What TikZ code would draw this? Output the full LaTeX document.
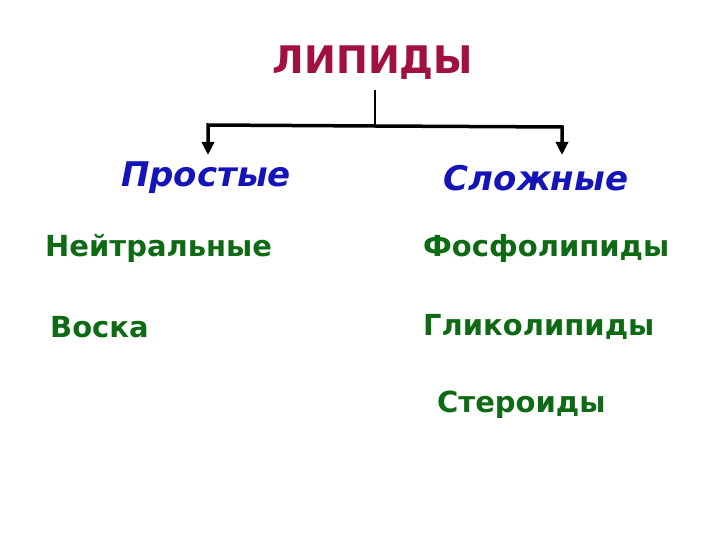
\documentclass[tikz,border=0pt]{standalone}
\usepackage{fontspec}
\setmainfont{DejaVu Sans}
\usetikzlibrary{arrows.meta}
\definecolor{titlered}{HTML}{A01040}
\definecolor{headblue}{HTML}{1414B8}
\definecolor{itemgreen}{HTML}{0E6A14}
\tikzset{
  titletext/.style={text=titlered, font=\fontsize{38}{44}\selectfont\bfseries, inner sep=0pt},
  headtext/.style={text=headblue, font=\fontsize{34}{40}\selectfont\bfseries\itshape, inner sep=0pt},
  itemtext/.style={text=itemgreen, font=\fontsize{29}{34}\selectfont\bfseries, inner sep=0pt, anchor=west},
  conn/.style={line width=3.5pt, black},
  arr/.style={conn, -{Triangle[length=13pt,width=12pt]}}
}
\begin{document}
\begin{tikzpicture}[x=1pt,y=-1pt]
\useasboundingbox (0,0) rectangle (720,540);
\node[titletext] (lip) at (373,63) {ЛИПИДЫ};
\node[headtext] (simple) at (206,178) {Простые};
\node[headtext] (complex) at (536,178) {Сложные};
\node[itemtext] (neut) at (45,248) {Нейтральные};
\node[itemtext] (wax) at (50,327) {Воска};
\node[itemtext] (phos) at (423,248) {Фосфолипиды};
\node[itemtext] (glyc) at (423,327) {Гликолипиды};
\node[itemtext] (ster) at (437,405) {Стероиды};
\coordinate (jn) at (375,126);
\coordinate (lc) at (208,125);
\coordinate (rc) at (562,127);
\draw[line width=1.5pt] (375,90) -- (jn);
\draw[arr] (jn) -- (lc) -- (208,155);
\draw[arr] (jn) -- (rc) -- (562,155);
\end{tikzpicture}
\end{document}
